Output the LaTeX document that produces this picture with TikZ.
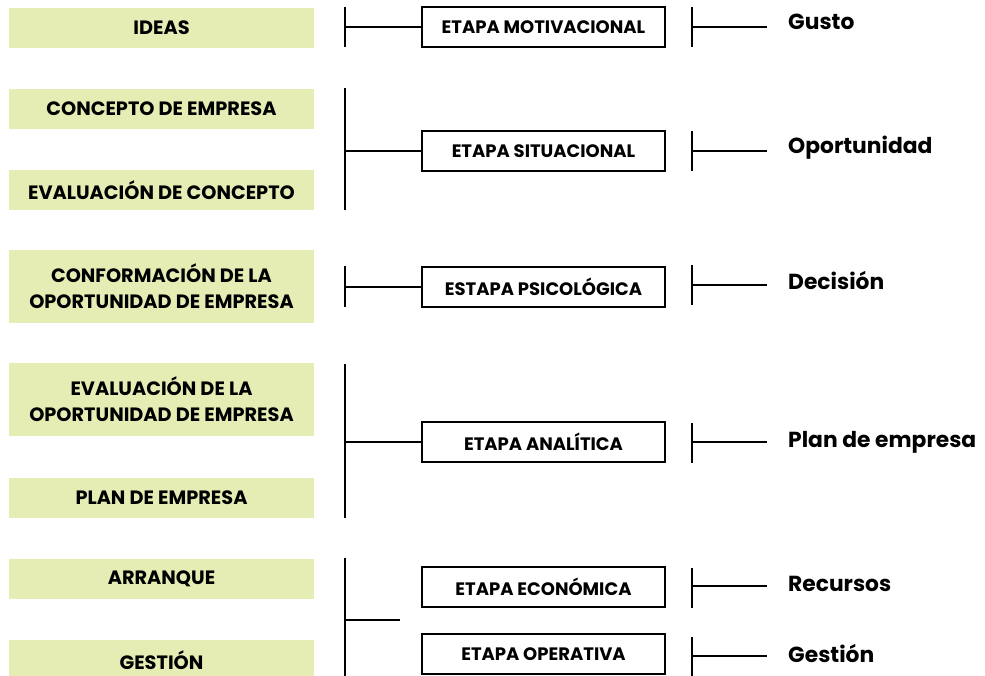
\documentclass[tikz,border=0pt]{standalone}
\usepackage{fontspec}
\setmainfont{Poppins}
\definecolor{gfill}{RGB}{230,237,180}
\begin{document}
\begin{tikzpicture}[x=1pt,y=-1pt,
  gbox/.style={fill=gfill, draw=none, minimum width=305pt, align=center, inner sep=0pt,
    font=\fontsize{19.3}{26}\selectfont\bfseries},
  sbox/.style={draw=black, line width=2pt, fill=white, minimum width=243pt, minimum height=40pt, inner sep=0pt,
    font=\fontsize{18}{22}\selectfont\bfseries},
  rlabel/.style={anchor=base west, inner sep=0pt, font=\fontsize{21.8}{26}\selectfont\bfseries},
  bar/.style={line width=2pt},
]
\useasboundingbox (0,0) rectangle (985,676);
% left green boxes
\node[gbox, minimum height=40pt] (g1) at (161.5,28) {IDEAS};
\node[gbox, minimum height=40pt] (g2) at (161.5,109) {CONCEPTO DE EMPRESA};
\node[gbox, minimum height=40pt] (g3) at (161.5,190) {EVALUACIÓN DE CONCEPTO};
\node[gbox, minimum height=72pt] (g4) at (161.5,286.5) {CONFORMACIÓN DE LA\\OPORTUNIDAD DE EMPRESA};
\node[gbox, minimum height=73pt] (g5) at (161.5,399.5) {EVALUACIÓN DE LA\\OPORTUNIDAD DE EMPRESA};
\node[gbox, minimum height=40pt] (g6) at (161.5,498) {PLAN DE EMPRESA};
\node[gbox, minimum height=40pt] (g7) at (161.5,579) {ARRANQUE};
\node[gbox, minimum height=40pt] (g8) at (161.5,660) {GESTIÓN};
% stage boxes
\node[sbox] (m1) at (543.5,27) {ETAPA MOTIVACIONAL};
\node[sbox] (m2) at (543.5,151) {ETAPA SITUACIONAL};
\node[sbox] (m3) at (543.5,287) {ESTAPA PSICOLÓGICA};
\node[sbox] (m4) at (543.5,442) {ETAPA ANALÍTICA};
\node[sbox] (m5) at (543.5,587) {ETAPA ECONÓMICA};
\node[sbox] (m6) at (543.5,654) {ETAPA OPERATIVA};
% right labels
\node[rlabel] (t1) at (788,30) {Gusto};
\node[rlabel] (t2) at (788,154) {Oportunidad};
\node[rlabel] (t3) at (788,290) {Decisión};
\node[rlabel] (t4) at (788,447) {Plan de empresa};
\node[rlabel] (t5) at (788,591) {Recursos};
\node[rlabel] (t6) at (788,662) {Gestión};
% left brackets
\coordinate (a1t) at (345,7);   \coordinate (a1b) at (345,47);
\coordinate (a2t) at (345,88);  \coordinate (a2b) at (345,210);
\coordinate (a3t) at (345,266); \coordinate (a3b) at (345,307);
\coordinate (a4t) at (345,364); \coordinate (a4b) at (345,518);
\coordinate (a5t) at (345,558); \coordinate (a5b) at (345,676);
\coordinate (a5e) at (400,620);
\draw[bar] (a1t) -- (a1b);
\draw[bar] (a1t|-m1.west) -- (m1.west);
\draw[bar] (a2t) -- (a2b);
\draw[bar] (a2t|-m2.west) -- (m2.west);
\draw[bar] (a3t) -- (a3b);
\draw[bar] (a3t|-m3.west) -- (m3.west);
\draw[bar] (a4t) -- (a4b);
\draw[bar] (a4t|-m4.west) -- (m4.west);
\draw[bar] (a5t) -- (a5b);
\draw[bar] (a5t|-a5e) -- (a5e);
% right brackets
\coordinate (b1t) at (692,7);   \coordinate (b1b) at (692,47);  \coordinate (b1e) at (767,27);
\coordinate (b2t) at (692,131); \coordinate (b2b) at (692,171); \coordinate (b2e) at (767,151);
\coordinate (b3t) at (692,265); \coordinate (b3b) at (692,305); \coordinate (b3e) at (767,285);
\coordinate (b4t) at (692,423); \coordinate (b4b) at (692,463); \coordinate (b4e) at (767,442);
\coordinate (b5t) at (692,568); \coordinate (b5b) at (692,608); \coordinate (b5e) at (767,586);
\coordinate (b6t) at (692,637); \coordinate (b6b) at (692,676); \coordinate (b6e) at (767,656);
\foreach \i in {1,...,6}{
  \draw[bar] (b\i t) -- (b\i b);
  \draw[bar] (b\i t|-b\i e) -- (b\i e);
}
\end{tikzpicture}
\end{document}
